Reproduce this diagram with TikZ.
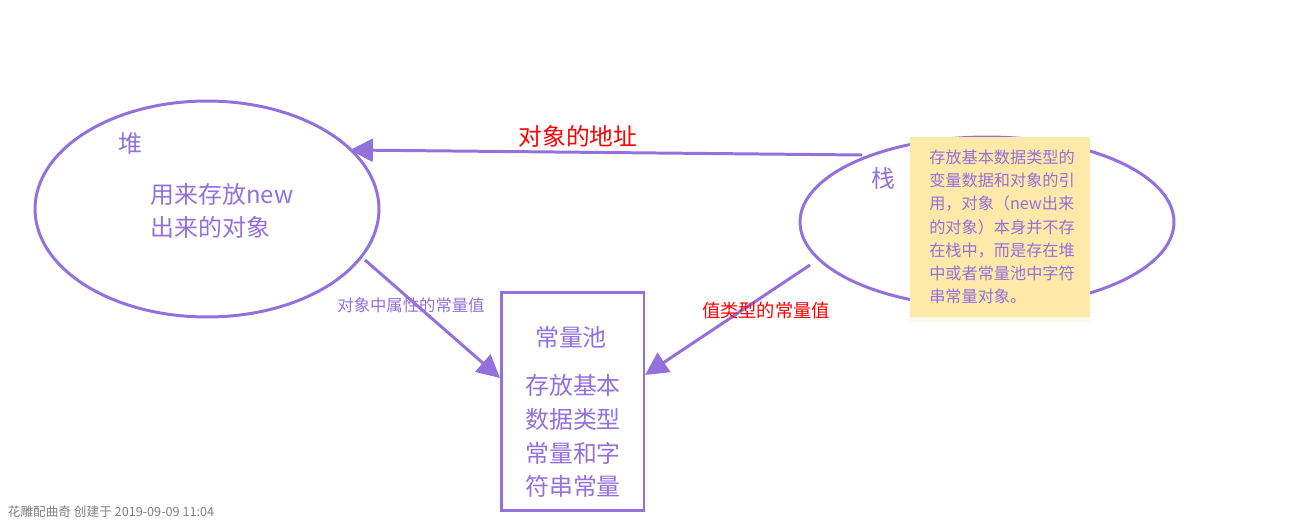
\documentclass[tikz,border=0pt]{standalone}
\usepackage{fontspec}
\newfontfamily\cjk{Noto Sans CJK SC}
\usetikzlibrary{arrows.meta,shadows,shapes.geometric}
\definecolor{lila}{RGB}{147,112,219}
\definecolor{notiz}{RGB}{255,233,168}
\tikzset{
  rand/.style={draw=lila, line width=1.7pt},
  pfeil/.style={draw=lila, line width=1.7pt, -{Triangle[length=13pt,width=13pt]}},
  gross/.style={text=lila, font=\cjk\fontsize{13.6}{18.5}\selectfont, align=center},
  klein/.style={font=\cjk\fontsize{9.3}{11}\selectfont}
}
\begin{document}
\begin{tikzpicture}[x=0.02cm, y=-0.02cm]
    \useasboundingbox (0,0) rectangle (1298,521);
    %Ellipses and pool
    \node[rand, ellipse, minimum width=6.88cm, minimum height=4.32cm, inner sep=0] (heap) at (207,209) {};
    \node[rand, ellipse, minimum width=7.48cm, minimum height=3.4cm, inner sep=0] (stack) at (987,222) {};
    \node[rand, minimum width=2.86cm, minimum height=4.38cm, inner sep=0] (pool) at (572.5,401.5) {};
    %Texts
    \node[gross] (heapname) at (130,143) {堆};
    \node[gross, align=left] (heaptext) at (222,211) {用来存放new\\出来的对象};
    \node[gross] (stackname) at (883,178) {栈};
    \node[gross] (poolname) at (571,337) {常量池};
    \node[gross, font=\cjk\fontsize{13.6}{19.3}\selectfont] (pooltext) at (573,436) {存放基本\\数据类型\\常量和字\\符串常量};
    %Note
    \node[fill=notiz, drop shadow={opacity=0.12, fill=orange!60, shadow xshift=0pt, shadow yshift=-3pt}, minimum width=3.6cm, minimum height=3.6cm, inner sep=0] (note) at (1000,227) {};
    \node[text=lila, align=left, font=\cjk\fontsize{9.2}{13.2}\selectfont] (notetext) at (1002,227)
      {存放基本数据类型的\\变量数据和对象的引\\用，对象（new出来\\的对象）本身并不存\\在栈中，而是存在堆\\中或者常量池中字符\\串常量对象。};
    %Arrows
    \coordinate (a1) at (862,155);
    \coordinate (a2) at (350,150);
    \coordinate (b1) at (365,260);
    \coordinate (b2) at (500,378);
    \coordinate (c1) at (810,265);
    \coordinate (c2) at (645,375);
    \draw[pfeil] (a1) -- (a2);
    \draw[pfeil] (b1) -- (b2);
    \draw[pfeil] (c1) -- (c2);
    \node[text=red, font=\cjk\fontsize{13.5}{15}\selectfont] (addr) at (578,136) {对象的地址};
    \node[klein, text=lila] (attr) at (411,305) {对象中属性的常量值};
    \node[text=red, font=\cjk\fontsize{10.4}{12}\selectfont] (val) at (766,311) {值类型的常量值};
    %Footer
    \node[text=gray, font=\cjk\fontsize{7.2}{8}\selectfont] (foot) at (111,512) {花雕配曲奇 创建于 2019-09-09 11:04};
\end{tikzpicture}
\end{document}
